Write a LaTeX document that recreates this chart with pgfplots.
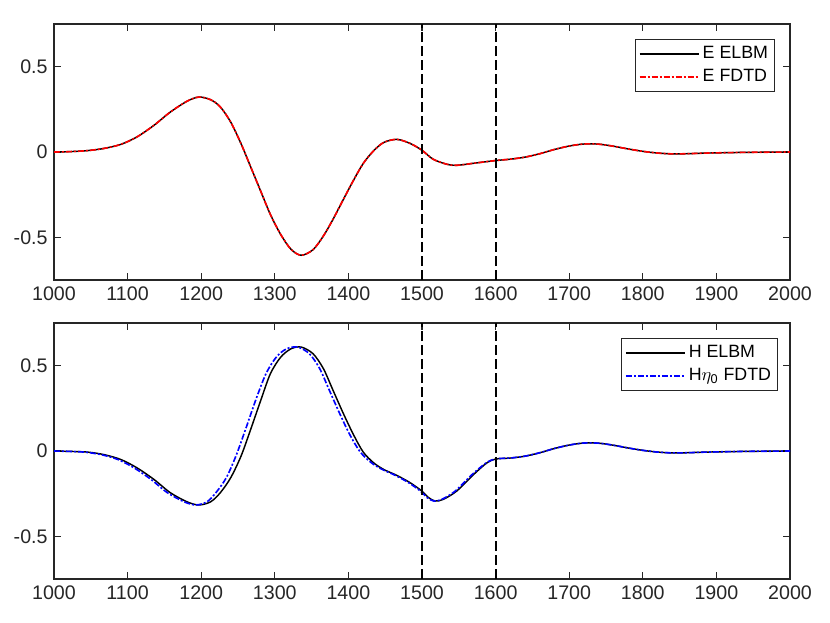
\documentclass[border=0pt]{standalone}
\usepackage{pgfplots}
\pgfplotsset{compat=1.18}
\usepackage{pgfplotstable}
\usepackage{fontspec}
\setmainfont{Liberation Sans}
\definecolor{axiscol}{HTML}{262626}

\pgfplotstableread{
x y
1000 0
1020 0.002
1045 0.008
1068 0.021
1091 0.045
1113 0.089
1136 0.157
1158 0.234
1181 0.298
1197 0.322
1213 0.306
1226 0.264
1240 0.176
1254 0.05
1267 -0.085
1281 -0.231
1294 -0.366
1308 -0.483
1322 -0.57
1336 -0.605
1352 -0.572
1366 -0.492
1379 -0.395
1393 -0.279
1407 -0.165
1420 -0.068
1434 0.006
1448 0.056
1466 0.074
1484 0.05
1500 0.01
1515 -0.042
1534 -0.072
1547 -0.078
1570 -0.066
1600 -0.05
1620 -0.042
1640 -0.03
1660 -0.01
1680 0.015
1700 0.035
1720 0.047
1740 0.046
1760 0.034
1780 0.018
1800 0.004
1820 -0.006
1840 -0.011
1860 -0.01
1880 -0.007
1900 -0.005
1940 -0.002
1970 -0.001
2000 0
}\Edata

\pgfplotstableread{
x y
1000 0
1020 -0.002
1045 -0.006
1068 -0.021
1091 -0.05
1113 -0.099
1136 -0.167
1158 -0.244
1181 -0.298
1197 -0.316
1213 -0.297
1226 -0.244
1240 -0.157
1254 -0.031
1267 0.124
1281 0.298
1294 0.453
1308 0.55
1322 0.599
1336 0.609
1352 0.57
1366 0.483
1379 0.357
1393 0.221
1407 0.095
1420 -0.005
1434 -0.068
1448 -0.108
1466 -0.143
1484 -0.186
1500 -0.235
1509 -0.273
1518 -0.293
1529 -0.283
1547 -0.235
1570 -0.138
1588 -0.07
1600 -0.047
1620 -0.041
1640 -0.03
1660 -0.01
1680 0.015
1700 0.035
1720 0.047
1740 0.046
1760 0.034
1780 0.018
1800 0.004
1820 -0.006
1840 -0.011
1860 -0.01
1880 -0.007
1900 -0.005
1940 -0.002
1970 -0.001
2000 0
}\Hdata

\pgfplotstableread{
x y
1000 0
1020 -0.002
1043 -0.007
1065 -0.022
1087 -0.05
1109 -0.099
1132 -0.167
1154 -0.244
1177 -0.298
1193 -0.316
1208 -0.297
1220 -0.244
1234 -0.157
1247 -0.031
1260 0.124
1274 0.298
1288 0.453
1302 0.55
1316 0.599
1331 0.609
1347 0.57
1361 0.483
1374 0.357
1388 0.221
1402 0.095
1416 -0.005
1431 -0.068
1446 -0.108
1464 -0.143
1482 -0.186
1498 -0.235
1507 -0.273
1516 -0.293
1527 -0.283
1545 -0.235
1568 -0.138
1587 -0.07
1600 -0.046
1620 -0.041
1640 -0.03
1660 -0.01
1680 0.015
1700 0.035
1720 0.047
1740 0.046
1760 0.034
1780 0.018
1800 0.004
1820 -0.006
1840 -0.011
1860 -0.01
1880 -0.007
1900 -0.005
1940 -0.002
1970 -0.001
2000 0
}\HFdata

\pgfplotsset{
  mystyle/.style={
    width=404.8pt, height=140.8pt, scale only axis,
    xmin=1000, xmax=2000, ymin=-0.75, ymax=0.75,
    xtick={1000,1100,...,2000}, ytick={-0.5,0,0.5},
    scaled x ticks=false, scaled y ticks=false,
    /pgf/number format/1000 sep={},
    /pgf/number format/assume math mode=true,
    tick align=inside, major tick length=3.9pt,
    axis line style={draw=axiscol, line width=0.6pt},
    every tick/.style={axiscol, line width=0.6pt},
    tick label style={font=\fontsize{10.8}{13}\selectfont, text=axiscol},
    legend style={at={(1,1)}, anchor=north east,
      draw=axiscol, line width=0.6pt, font=\fontsize{9.8}{12}\selectfont,
      cells={anchor=west}, inner xsep=1.8pt, inner ysep=1.4pt, row sep=0pt,
      nodes={inner xsep=1.7pt, inner ysep=1.95pt, text height=7pt, text depth=2pt}},
    legend image code/.code={\draw[#1, line width=0.9pt] (0pt,0pt) -- (32.5pt,0pt);},
  },
  vdash/.style={black, line width=1.05pt, dash pattern=on 5.5pt off 2.2pt, forget plot},
  dd/.style={line width=0.9pt, dash pattern=on 3.3pt off 1.1pt on 1.1pt off 1.1pt},
}

\begin{document}
\begin{tikzpicture}
\begin{axis}[mystyle, name=top, at={(0,0)}, anchor=south west,
  legend style={xshift=-8.25pt, yshift=-8.25pt}]
  \addplot[black, line width=0.8pt, smooth] table {\Edata};
  \addlegendentry{E ELBM}
  \addplot[red, dd, smooth] table {\Edata};
  \addlegendentry{E FDTD}
  \addplot[vdash] coordinates {(1500,-0.75) (1500,0.75)};
  \addplot[vdash] coordinates {(1600,-0.75) (1600,0.75)};
\end{axis}
\begin{axis}[mystyle, name=bot, at={(top.south west)}, anchor=north west, yshift=-23.65pt,
  legend style={xshift=-6.6pt, yshift=-8.25pt}]
  \addplot[black, line width=0.8pt, smooth] table {\Hdata};
  \addlegendentry{H ELBM}
  \addplot[blue, dd, smooth] table {\HFdata};
  \addlegendentry{H$\eta_{\hbox{\fontsize{7}{8}\selectfont 0}}$ FDTD}
  \addplot[vdash] coordinates {(1500,-0.75) (1500,0.75)};
  \addplot[vdash] coordinates {(1600,-0.75) (1600,0.75)};
\end{axis}
\pgfresetboundingbox
\useasboundingbox ([xshift=-29.7pt,yshift=13.2pt]top.north west) rectangle ([xshift=22pt,yshift=-23.65pt]bot.south east);
\end{tikzpicture}
\end{document}
